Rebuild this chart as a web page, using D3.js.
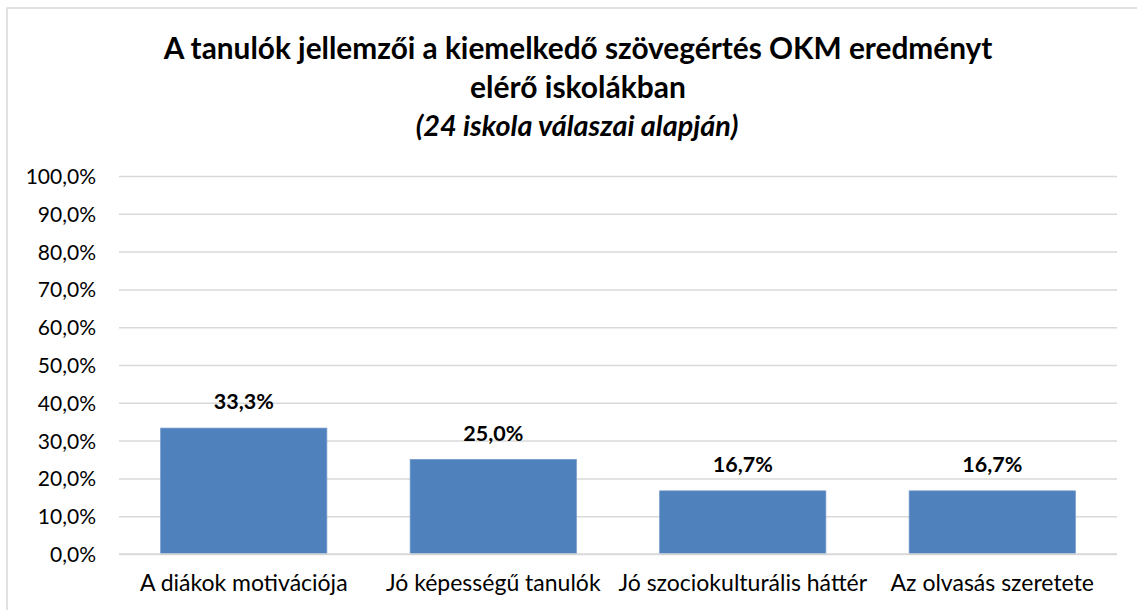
<!DOCTYPE html>
<html>
<head>
<meta charset="utf-8">
<script src="https://cdn.jsdelivr.net/npm/d3@7"></script>
<style>
  html, body { margin: 0; padding: 0; background: #fff; }
  svg { display: block; }
  text { font-family: Lato, "Open Sans", sans-serif; fill: #000; }
</style>
</head>
<body>
<svg id="chart" width="1137" height="610"></svg>
<script>
// Chart data
const categories = [
  "A diákok motivációja",
  "Jó képességű tanulók",
  "Jó szociokulturális háttér",
  "Az olvasás szeretete"
];
const values = [0.333, 0.25, 0.167, 0.167];
const tickValues = [0, 0.1, 0.2, 0.3, 0.4, 0.5, 0.6, 0.7, 0.8, 0.9, 1.0];
const titleLines = [
  "A tanulók jellemzői a kiemelkedő szövegértés OKM eredményt",
  "elérő iskolákban"
];
const subtitle = "(24 iskola válaszai alapján)";

const W = 1137, H = 610;
const plot = { left: 119, right: 1117, top: 176, bottom: 554 };

const huLocale = d3.formatLocale({ decimal: ",", thousands: " ", grouping: [3], currency: ["", " Ft"] });
const pct = huLocale.format(".1%");

const svg = d3.select("#chart");

// Outer chart frame
svg.append("rect")
  .attr("x", 7).attr("y", 8)
  .attr("width", W + 20).attr("height", H + 20)
  .attr("fill", "#fff")
  .attr("stroke", "#d9d9d9")
  .attr("stroke-width", 1.5);

// Title
const cx = 578;
svg.append("text")
  .attr("x", cx).attr("y", 59)
  .attr("text-anchor", "middle")
  .style("font-size", "29.8px").style("font-weight", "bold")
  .text(titleLines[0]);
svg.append("text")
  .attr("x", cx).attr("y", 98)
  .attr("text-anchor", "middle")
  .style("font-size", "30px").style("font-weight", "bold")
  .text(titleLines[1]);
svg.append("text")
  .attr("x", cx - 1).attr("y", 136)
  .attr("text-anchor", "middle")
  .style("font-size", "28.8px").style("font-weight", "bold").style("font-style", "italic")
  .text(subtitle);

// Scales
const x = d3.scaleBand()
  .domain(categories)
  .range([plot.left, plot.right])
  .paddingInner(0.334)
  .paddingOuter(0.167);

const y = d3.scaleLinear()
  .domain([0, 1])
  .range([plot.bottom, plot.top]);

// Gridlines
const yGrid = d3.axisLeft(y)
  .tickValues(tickValues)
  .tickSize(-(plot.right - plot.left))
  .tickFormat("");
const grid = svg.append("g")
  .attr("transform", `translate(${plot.left},0)`)
  .call(yGrid);
grid.select(".domain").remove();
grid.selectAll(".tick line")
  .attr("stroke", "#d9d9d9")
  .attr("stroke-width", 1.5);

// Y tick labels
const yAxis = d3.axisLeft(y)
  .tickValues(tickValues)
  .tickSize(0)
  .tickPadding(0)
  .tickFormat(pct);
const ya = svg.append("g")
  .attr("transform", "translate(96,0)")
  .call(yAxis);
ya.select(".domain").remove();
ya.selectAll(".tick text")
  .attr("font-family", null)
  .attr("font-size", null)
  .style("font-size", "21px")
  .attr("dy", "0.36em")
  .style("fill", "#000");

// Bars
svg.append("g").selectAll("rect")
  .data(values)
  .join("rect")
  .attr("x", (d, i) => x(categories[i]))
  .attr("width", x.bandwidth())
  .attr("y", d => y(d))
  .attr("height", d => y(0) - y(d))
  .attr("fill", "#4f81bd")
  .attr("stroke", "#6f97c9")
  .attr("stroke-width", 0.8);

// Baseline (0%) redrawn over bars
svg.append("line")
  .attr("x1", plot.left).attr("x2", plot.right)
  .attr("y1", y(0)).attr("y2", y(0))
  .attr("stroke", "#d9d9d9")
  .attr("stroke-width", 1.5);

// Value labels
svg.append("g").selectAll("text")
  .data(values)
  .join("text")
  .attr("x", (d, i) => x(categories[i]) + x.bandwidth() / 2)
  .attr("y", d => y(d) - 19)
  .attr("text-anchor", "middle")
  .style("font-size", "21.5px").style("font-weight", "bold")
  .text(d => pct(d));

// Category axis labels
const xAxis = d3.axisBottom(x).tickSize(0).tickPadding(0);
const xa = svg.append("g")
  .attr("transform", "translate(0,591)")
  .call(xAxis);
xa.select(".domain").remove();
xa.selectAll(".tick text")
  .attr("font-family", null)
  .attr("font-size", null)
  .attr("dy", 0)
  .attr("y", 0)
  .style("font-size", "23px")
  .style("fill", "#000");
</script>
</body>
</html>
